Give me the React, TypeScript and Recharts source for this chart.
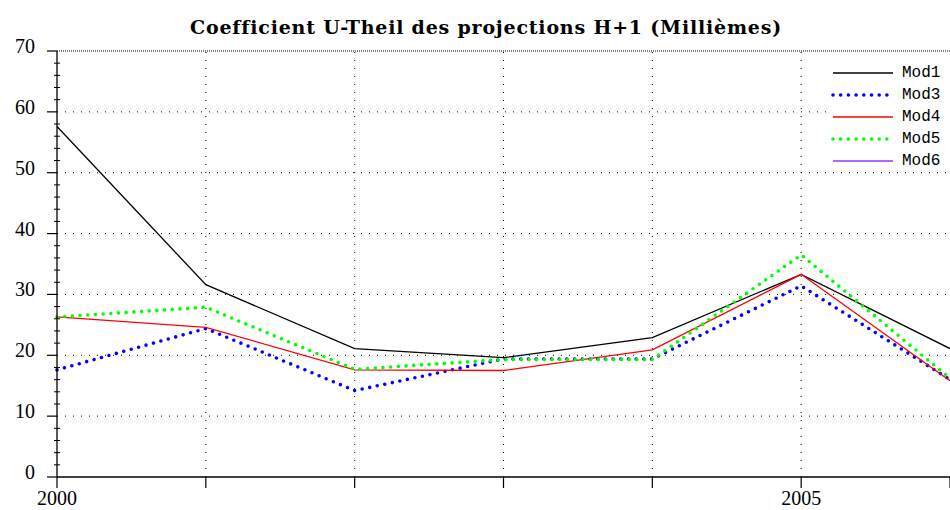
import React from "react";
import { LineChart, Line, XAxis, YAxis, ReferenceLine } from "recharts";

const YEARS = [2000, 2001, 2002, 2003, 2004, 2005, 2006];
const MOD1 = [57.6, 31.6, 21.1, 19.6, 22.9, 33.3, 21.1];
const MOD3 = [17.6, 24.4, 14.2, 19.4, 19.4, 31.4, 16.0];
const MOD4 = [26.3, 24.6, 17.6, 17.5, 20.9, 33.3, 15.8];
const MOD5 = [26.3, 27.9, 17.7, 19.3, 19.3, 36.5, 16.2];
const MOD6: (number | null)[] = [null, null, null, null, null, null, null];

const Y_TICKS = Array.from({ length: 36 }, (_, i) => i * 2);
const Y_GRID = [10, 20, 30, 40, 50, 60];
const X_GRID = [2001, 2002, 2003, 2004, 2005];
const X_LABELS = [2000, 2005];

const TITLE = "Coefficient U-Theil des projections H+1 (Millièmes)";

const SERIES = [
  { key: "mod1", name: "Mod1", color: "#000000", width: 1.3, dash: undefined as string | undefined },
  { key: "mod3", name: "Mod3", color: "#0000ff", width: 3.6, dash: "0 7.7" },
  { key: "mod4", name: "Mod4", color: "#ff0000", width: 1.3, dash: undefined },
  { key: "mod5", name: "Mod5", color: "#00ff00", width: 3.6, dash: "0 7.7" },
  { key: "mod6", name: "Mod6", color: "#9933ff", width: 1.3, dash: undefined },
];

const data = YEARS.map((year, i) => ({
  year,
  mod1: MOD1[i],
  mod3: MOD3[i],
  mod4: MOD4[i],
  mod5: MOD5[i],
  mod6: MOD6[i],
}));

const SERIF = "'Liberation Serif', 'DejaVu Serif', serif";
const MONO = "'Liberation Mono', 'DejaVu Sans Mono', monospace";

function YTick(props: any) {
  const { x, y, payload } = props;
  const v = Number(payload.value);
  const major = v % 10 === 0;
  if (!major) {
    return <line x1={x - 3} x2={x + 3} y1={y} y2={y} stroke="#000" strokeWidth={1} />;
  }
  return (
    <g>
      <line x1={x - 10} x2={x} y1={y} y2={y} stroke="#000" strokeWidth={1.2} />
      <text x={x - 22} y={y - 5} textAnchor="end" dominantBaseline="central"
        fontFamily={SERIF} fontSize={20} fill="#000">
        {v}
      </text>
    </g>
  );
}

function XTick(props: any) {
  const { x, y, payload } = props;
  if (!X_LABELS.includes(Number(payload.value))) return null;
  return (
    <text x={x} y={y + 8} textAnchor="middle" dominantBaseline="central"
      fontFamily={SERIF} fontSize={20} fill="#000">
      {payload.value}
    </text>
  );
}

function ChartLegend() {
  return (
    <div style={{ position: "absolute", left: 828, top: 61, width: 122, height: 108, background: "#fff" }}>
      <svg width={122} height={108}>
        {SERIES.map((s, i) => {
          const cy = 12 + i * 22;
          return (
            <g key={s.key}>
              <line x1={5} x2={65} y1={cy} y2={cy} stroke={s.color} strokeWidth={s.width}
                strokeDasharray={s.dash} strokeLinecap={s.dash ? "round" : "butt"} />
              <text x={74} y={cy} dominantBaseline="central" fontFamily={MONO} fontSize={16} fill="#000">
                {s.name}
              </text>
            </g>
          );
        })}
      </svg>
    </div>
  );
}

export default function App() {
  return (
    <div style={{ position: "absolute", left: 0, top: 0, width: 950, height: 510, background: "#fff" }}>
      <div style={{
        position: "absolute", left: 0, width: 972, top: 14, textAlign: "center",
        fontFamily: "'DejaVu Serif', serif", fontWeight: "bold", fontSize: 19, letterSpacing: 0.8,
        lineHeight: "26px",
      }}>
        {TITLE}
      </div>
      <LineChart width={950} height={510} data={data}
        margin={{ top: 51, right: 0, bottom: 3, left: 0 }}>
        {Y_GRID.map((v) => (
          <ReferenceLine key={`h${v}`} y={v} stroke="#000" strokeWidth={1} strokeDasharray="1 7" />
        ))}
        <ReferenceLine y={70} stroke="#000" strokeWidth={1} strokeDasharray="1 1" />
        {X_GRID.map((v) => (
          <ReferenceLine key={`v${v}`} x={v} stroke="#000" strokeWidth={1} strokeDasharray="1 7" />
        ))}
        <XAxis dataKey="year" type="number" domain={[2000, 2006]} ticks={YEARS}
          axisLine={{ stroke: "#000", strokeWidth: 1.3 }} tickLine={{ stroke: "#000", strokeWidth: 1.2 }}
          tickSize={11} tickMargin={2} height={30} tick={<XTick />} interval={0} />
        <YAxis type="number" domain={[0, 70]} ticks={Y_TICKS} width={57} interval={0}
          axisLine={{ stroke: "#000", strokeWidth: 1.3 }} tickLine={false}
          tickSize={0} tickMargin={0} tick={<YTick />} />
        {SERIES.map((s) => (
          <Line key={s.key} type="linear" dataKey={s.key} name={s.name} stroke={s.color}
            strokeWidth={s.width} strokeDasharray={s.dash}
            strokeLinecap={s.dash ? "round" : "butt"} dot={false} activeDot={false}
            isAnimationActive={false} connectNulls={false} />
        ))}
      </LineChart>
      <ChartLegend />
    </div>
  );
}
